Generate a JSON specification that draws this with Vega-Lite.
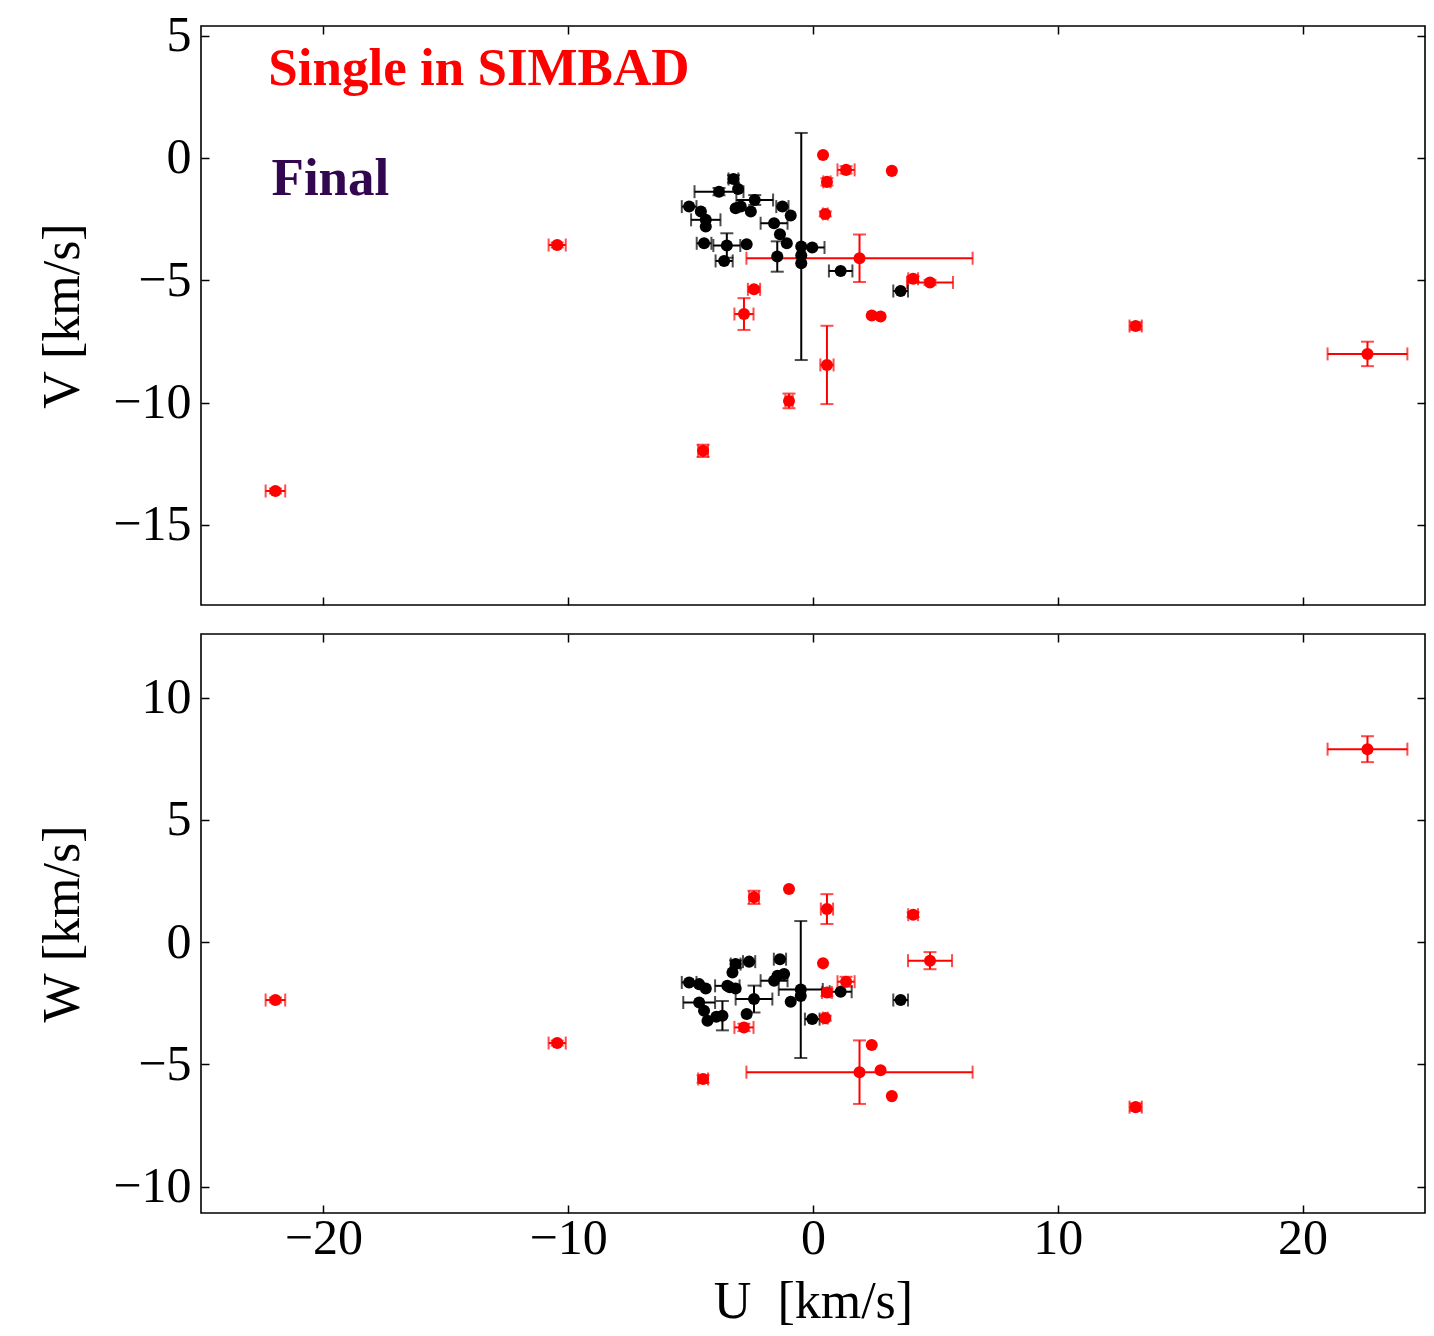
{
  "$schema": "https://vega.github.io/schema/vega-lite/v6.json",
  "background": "white",
  "padding": {"left": 36, "top": 9, "right": 5, "bottom": 5},
  "config": {
    "view": {"stroke": "black", "strokeWidth": 1.6, "fill": "white"},
    "axis": {
      "domain": false, "grid": false, "tickColor": "black", "tickSize": -8, "tickWidth": 1.5,
      "labelFont": "Liberation Serif", "labelFontSize": 50, "labelColor": "black", "labelPadding": 18,
      "titleFont": "Liberation Serif", "titleFontSize": 52, "titleFontWeight": "normal", "titleColor": "black",
      "labelOverlap": false, "labelFlush": false
    }
  },
  "resolve": {"scale": {"x": "independent", "y": "independent"}},
  "spacing": 25,
  "datasets": {
    "top": [
      {"g": "r", "U": -21.96, "V": -13.61, "xe": 0.4, "ye": 0.1},
      {"g": "r", "U": -10.45, "V": -3.56, "xe": 0.35, "ye": 0.1},
      {"g": "r", "U": -4.49, "V": -11.97, "xe": 0.2, "ye": 0.25},
      {"g": "r", "U": -2.82, "V": -6.38, "xe": 0.39, "ye": 0.65},
      {"g": "r", "U": -2.41, "V": -5.37, "xe": 0.25, "ye": 0.1},
      {"g": "r", "U": -0.98, "V": -9.93, "xe": 0.15, "ye": 0.3},
      {"g": "r", "U": 0.41, "V": 0.12, "xe": 0, "ye": 0},
      {"g": "r", "U": 0.57, "V": -0.98, "xe": 0.15, "ye": 0.15},
      {"g": "r", "U": 0.5, "V": -2.29, "xe": 0.1, "ye": 0.1},
      {"g": "r", "U": 1.35, "V": -0.49, "xe": 0.35, "ye": 0.15},
      {"g": "r", "U": 3.22, "V": -0.53, "xe": 0, "ye": 0},
      {"g": "r", "U": 1.9, "V": -4.1, "xe": 4.62, "ye": 0.97},
      {"g": "r", "U": 0.57, "V": -8.46, "xe": 0.27, "ye": 1.6},
      {"g": "r", "U": 2.4, "V": -6.44, "xe": 0, "ye": 0},
      {"g": "r", "U": 2.76, "V": -6.48, "xe": 0, "ye": 0},
      {"g": "r", "U": 4.09, "V": -4.94, "xe": 0.2, "ye": 0.1},
      {"g": "r", "U": 4.78, "V": -5.09, "xe": 0.94, "ye": 0.1},
      {"g": "r", "U": 13.18, "V": -6.87, "xe": 0.25, "ye": 0.15},
      {"g": "r", "U": 22.65, "V": -8.01, "xe": 1.63, "ye": 0.5},
      {"g": "k", "U": -5.06, "V": -1.99, "xe": 0.3, "ye": 0},
      {"g": "k", "U": -4.58, "V": -2.19, "xe": 0, "ye": 0},
      {"g": "k", "U": -4.38, "V": -2.53, "xe": 0.6, "ye": 0},
      {"g": "k", "U": -4.38, "V": -2.8, "xe": 0, "ye": 0},
      {"g": "k", "U": -4.45, "V": -3.49, "xe": 0.3, "ye": 0},
      {"g": "k", "U": -3.84, "V": -1.38, "xe": 1.0, "ye": 0.15},
      {"g": "k", "U": -3.25, "V": -0.86, "xe": 0.2, "ye": 0.15},
      {"g": "k", "U": -3.06, "V": -1.27, "xe": 0, "ye": 0},
      {"g": "k", "U": -3.16, "V": -2.06, "xe": 0, "ye": 0},
      {"g": "k", "U": -2.95, "V": -1.99, "xe": 0, "ye": 0},
      {"g": "k", "U": -2.54, "V": -2.19, "xe": 0, "ye": 0},
      {"g": "k", "U": -2.38, "V": -1.72, "xe": 0.75, "ye": 0.2},
      {"g": "k", "U": -1.25, "V": -1.99, "xe": 0.25, "ye": 0},
      {"g": "k", "U": -0.91, "V": -2.35, "xe": 0, "ye": 0},
      {"g": "k", "U": -1.59, "V": -2.67, "xe": 0.55, "ye": 0},
      {"g": "k", "U": -1.35, "V": -3.12, "xe": 0, "ye": 0},
      {"g": "k", "U": -1.07, "V": -3.49, "xe": 0, "ye": 0},
      {"g": "k", "U": -3.52, "V": -3.58, "xe": 0.55, "ye": 0.5},
      {"g": "k", "U": -2.71, "V": -3.53, "xe": 0, "ye": 0},
      {"g": "k", "U": -3.63, "V": -4.21, "xe": 0.35, "ye": 0},
      {"g": "k", "U": -1.46, "V": -4.03, "xe": 0, "ye": 0.62},
      {"g": "k", "U": -0.48, "V": -3.62, "xe": 0, "ye": 4.64},
      {"g": "k", "U": -0.03, "V": -3.66, "xe": 0.5, "ye": 0},
      {"g": "k", "U": -0.48, "V": -3.99, "xe": 0, "ye": 0},
      {"g": "k", "U": -0.48, "V": -4.3, "xe": 0, "ye": 0},
      {"g": "k", "U": 1.13, "V": -4.62, "xe": 0.48, "ye": 0},
      {"g": "k", "U": 3.58, "V": -5.44, "xe": 0.3, "ye": 0}
    ],
    "bottom": [
      {"g": "r", "U": -21.96, "W": -2.37, "xe": 0.4, "ye": 0.1},
      {"g": "r", "U": -10.45, "W": -4.13, "xe": 0.35, "ye": 0.1},
      {"g": "r", "U": -4.49, "W": -5.6, "xe": 0.2, "ye": 0.15},
      {"g": "r", "U": -2.82, "W": -3.49, "xe": 0.39, "ye": 0.15},
      {"g": "r", "U": -2.41, "W": 1.83, "xe": 0.2, "ye": 0.27},
      {"g": "r", "U": -0.98, "W": 2.17, "xe": 0, "ye": 0},
      {"g": "r", "U": 0.41, "W": -0.87, "xe": 0, "ye": 0},
      {"g": "r", "U": 0.57, "W": -2.06, "xe": 0.2, "ye": 0.15},
      {"g": "r", "U": 0.5, "W": -3.11, "xe": 0.1, "ye": 0.1},
      {"g": "r", "U": 0.57, "W": 1.35, "xe": 0.25, "ye": 0.61},
      {"g": "r", "U": 1.35, "W": -1.62, "xe": 0.35, "ye": 0.2},
      {"g": "r", "U": 3.22, "W": -6.3, "xe": 0, "ye": 0},
      {"g": "r", "U": 1.9, "W": -5.32, "xe": 4.62, "ye": 1.3},
      {"g": "r", "U": 2.4, "W": -4.21, "xe": 0, "ye": 0},
      {"g": "r", "U": 2.76, "W": -5.24, "xe": 0, "ye": 0},
      {"g": "r", "U": 4.09, "W": 1.12, "xe": 0.2, "ye": 0.1},
      {"g": "r", "U": 4.78, "W": -0.76, "xe": 0.9, "ye": 0.35},
      {"g": "r", "U": 13.18, "W": -6.75, "xe": 0.25, "ye": 0.15},
      {"g": "r", "U": 22.65, "W": 7.89, "xe": 1.63, "ye": 0.53},
      {"g": "k", "U": -5.06, "W": -1.65, "xe": 0.3, "ye": 0},
      {"g": "k", "U": -4.65, "W": -1.72, "xe": 0, "ye": 0},
      {"g": "k", "U": -4.38, "W": -1.9, "xe": 0, "ye": 0},
      {"g": "k", "U": -3.5, "W": -1.79, "xe": 0.5, "ye": 0},
      {"g": "k", "U": -3.16, "W": -1.9, "xe": 0, "ye": 0},
      {"g": "k", "U": -3.16, "W": -0.9, "xe": 0.2, "ye": 0.15},
      {"g": "k", "U": -2.61, "W": -0.8, "xe": 0.25, "ye": 0},
      {"g": "k", "U": -3.29, "W": -1.24, "xe": 0, "ye": 0},
      {"g": "k", "U": -1.35, "W": -0.7, "xe": 0.25, "ye": 0},
      {"g": "k", "U": -1.18, "W": -1.31, "xe": 0, "ye": 0},
      {"g": "k", "U": -1.59, "W": -1.58, "xe": 0.55, "ye": 0},
      {"g": "k", "U": -1.45, "W": -1.38, "xe": 0, "ye": 0},
      {"g": "k", "U": -0.5, "W": -1.94, "xe": 0.9, "ye": 2.8},
      {"g": "k", "U": -0.5, "W": -2.2, "xe": 0, "ye": 0},
      {"g": "k", "U": -0.91, "W": -2.44, "xe": 0, "ye": 0},
      {"g": "k", "U": -2.41, "W": -2.33, "xe": 0.75, "ye": 0.55},
      {"g": "k", "U": 1.13, "W": -2.03, "xe": 0.45, "ye": 0},
      {"g": "k", "U": -4.65, "W": -2.47, "xe": 0.65, "ye": 0},
      {"g": "k", "U": -4.45, "W": -2.81, "xe": 0, "ye": 0},
      {"g": "k", "U": -4.31, "W": -3.22, "xe": 0, "ye": 0},
      {"g": "k", "U": -3.7, "W": -3.01, "xe": 0, "ye": 0.6},
      {"g": "k", "U": -3.95, "W": -3.05, "xe": 0, "ye": 0},
      {"g": "k", "U": -2.71, "W": -2.94, "xe": 0, "ye": 0},
      {"g": "k", "U": -0.03, "W": -3.15, "xe": 0.3, "ye": 0},
      {"g": "k", "U": -3.4, "W": -1.85, "xe": 0, "ye": 0},
      {"g": "k", "U": 3.58, "W": -2.37, "xe": 0.3, "ye": 0}
    ]
  },
  "vconcat": [
    {
      "width": 1224, "height": 579,
      "data": {"name": "top"},
      "resolve": {"axis": {"x": "independent", "y": "independent"}},
      "layer": [
        {
          "transform": [{"filter": "datum.g == 'r' && datum.xe > 0"}],
          "mark": {"type": "errorbar", "orient": "horizontal", "color": "#ff0000", "thickness": 2, "ticks": {"size": 13, "thickness": 2, "color": "#ff0000"}},
          "encoding": {
            "x": {"field": "U", "type": "quantitative", "scale": {"domain": [-25, 25], "nice": false, "zero": false}, "axis": null},
            "xError": {"field": "xe"},
            "y": {"field": "V", "type": "quantitative", "scale": {"domain": [-18.27, 5.39], "nice": false, "zero": false}, "axis": null}
          }
        },
        {
          "transform": [{"filter": "datum.g == 'r' && datum.ye > 0"}],
          "mark": {"type": "errorbar", "orient": "vertical", "color": "#ff0000", "thickness": 2, "ticks": {"size": 13, "thickness": 2, "color": "#ff0000"}},
          "encoding": {
            "x": {"field": "U", "type": "quantitative", "axis": null},
            "y": {"field": "V", "type": "quantitative", "axis": null},
            "yError": {"field": "ye"}
          }
        },
        {
          "transform": [{"filter": "datum.g == 'k' && datum.xe > 0"}],
          "mark": {"type": "errorbar", "orient": "horizontal", "color": "#000000", "thickness": 2, "ticks": {"size": 13, "thickness": 2, "color": "#000000"}},
          "encoding": {
            "x": {"field": "U", "type": "quantitative", "axis": null},
            "xError": {"field": "xe"},
            "y": {"field": "V", "type": "quantitative", "axis": null}
          }
        },
        {
          "transform": [{"filter": "datum.g == 'k' && datum.ye > 0"}],
          "mark": {"type": "errorbar", "orient": "vertical", "color": "#000000", "thickness": 2, "ticks": {"size": 13, "thickness": 2, "color": "#000000"}},
          "encoding": {
            "x": {"field": "U", "type": "quantitative", "axis": null},
            "y": {"field": "V", "type": "quantitative", "axis": null},
            "yError": {"field": "ye"}
          }
        },
        {
          "transform": [{"filter": "datum.g == 'k'"}],
          "mark": {"type": "circle", "size": 145, "opacity": 1, "color": "#000000"},
          "encoding": {
            "x": {"field": "U", "type": "quantitative", "axis": {"orient": "bottom", "values": [-20, -10, 0, 10, 20], "labels": false, "title": null}},
            "y": {"field": "V", "type": "quantitative", "axis": {"orient": "left", "values": [-15, -10, -5, 0, 5], "title": "V [km/s]", "titlePadding": 23}}
          }
        },
        {
          "transform": [{"filter": "datum.g == 'r'"}],
          "mark": {"type": "circle", "size": 145, "opacity": 1, "color": "#ff0000"},
          "encoding": {
            "x": {"field": "U", "type": "quantitative", "axis": {"orient": "top", "values": [-20, -10, 0, 10, 20], "labels": false, "title": null}},
            "y": {"field": "V", "type": "quantitative", "axis": {"orient": "right", "values": [-15, -10, -5, 0, 5], "labels": false, "title": null}}
          }
        },
        {
          "data": {"values": [{"label": "Single in SIMBAD"}]},
          "mark": {"type": "text", "font": "Liberation Serif", "fontSize": 53, "fontWeight": "bold", "color": "#ff0000", "align": "left", "baseline": "alphabetic"},
          "encoding": {
            "x": {"datum": -22.25, "type": "quantitative", "axis": null},
            "y": {"datum": 2.98, "type": "quantitative", "axis": null},
            "text": {"field": "label"}
          }
        },
        {
          "data": {"values": [{"label": "Final"}]},
          "mark": {"type": "text", "font": "Liberation Serif", "fontSize": 53, "fontWeight": "bold", "color": "#330650", "align": "left", "baseline": "alphabetic"},
          "encoding": {
            "x": {"datum": -22.12, "type": "quantitative", "axis": null},
            "y": {"datum": -1.51, "type": "quantitative", "axis": null},
            "text": {"field": "label"}
          }
        }
      ]
    },
    {
      "width": 1224, "height": 579,
      "data": {"name": "bottom"},
      "resolve": {"axis": {"x": "independent", "y": "independent"}},
      "layer": [
        {
          "transform": [{"filter": "datum.g == 'r' && datum.xe > 0"}],
          "mark": {"type": "errorbar", "orient": "horizontal", "color": "#ff0000", "thickness": 2, "ticks": {"size": 13, "thickness": 2, "color": "#ff0000"}},
          "encoding": {
            "x": {"field": "U", "type": "quantitative", "scale": {"domain": [-25, 25], "nice": false, "zero": false}, "axis": null},
            "xError": {"field": "xe"},
            "y": {"field": "W", "type": "quantitative", "scale": {"domain": [-11.08, 12.6], "nice": false, "zero": false}, "axis": null}
          }
        },
        {
          "transform": [{"filter": "datum.g == 'r' && datum.ye > 0"}],
          "mark": {"type": "errorbar", "orient": "vertical", "color": "#ff0000", "thickness": 2, "ticks": {"size": 13, "thickness": 2, "color": "#ff0000"}},
          "encoding": {
            "x": {"field": "U", "type": "quantitative", "axis": null},
            "y": {"field": "W", "type": "quantitative", "axis": null},
            "yError": {"field": "ye"}
          }
        },
        {
          "transform": [{"filter": "datum.g == 'k' && datum.xe > 0"}],
          "mark": {"type": "errorbar", "orient": "horizontal", "color": "#000000", "thickness": 2, "ticks": {"size": 13, "thickness": 2, "color": "#000000"}},
          "encoding": {
            "x": {"field": "U", "type": "quantitative", "axis": null},
            "xError": {"field": "xe"},
            "y": {"field": "W", "type": "quantitative", "axis": null}
          }
        },
        {
          "transform": [{"filter": "datum.g == 'k' && datum.ye > 0"}],
          "mark": {"type": "errorbar", "orient": "vertical", "color": "#000000", "thickness": 2, "ticks": {"size": 13, "thickness": 2, "color": "#000000"}},
          "encoding": {
            "x": {"field": "U", "type": "quantitative", "axis": null},
            "y": {"field": "W", "type": "quantitative", "axis": null},
            "yError": {"field": "ye"}
          }
        },
        {
          "transform": [{"filter": "datum.g == 'k'"}],
          "mark": {"type": "circle", "size": 145, "opacity": 1, "color": "#000000"},
          "encoding": {
            "x": {"field": "U", "type": "quantitative", "axis": {"orient": "bottom", "values": [-20, -10, 0, 10, 20], "title": "U\u2002[km/s]", "labelPadding": 8, "titlePadding": 13}},
            "y": {"field": "W", "type": "quantitative", "axis": {"orient": "left", "values": [-10, -5, 0, 5, 10], "title": "W [km/s]", "titlePadding": 23}}
          }
        },
        {
          "transform": [{"filter": "datum.g == 'r'"}],
          "mark": {"type": "circle", "size": 145, "opacity": 1, "color": "#ff0000"},
          "encoding": {
            "x": {"field": "U", "type": "quantitative", "axis": {"orient": "top", "values": [-20, -10, 0, 10, 20], "labels": false, "title": null}},
            "y": {"field": "W", "type": "quantitative", "axis": {"orient": "right", "values": [-10, -5, 0, 5, 10], "labels": false, "title": null}}
          }
        }
      ]
    }
  ]
}
